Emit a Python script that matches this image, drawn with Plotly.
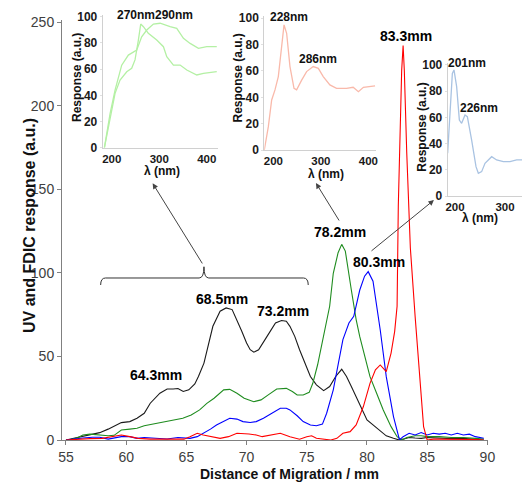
import plotly.graph_objects as go

# ---------------- main chart data (distance in mm, response in a.u.) -------------
black_x = [55, 55.5, 56.4, 57, 57.8, 58.5, 59.6, 60.3, 60.9, 61.5, 62.0, 62.8, 63.4, 63.9, 64.3, 64.74,
           65.2, 65.7, 66.0, 66.46, 66.8, 67.2, 67.8, 68.3, 68.8, 69.2, 69.6, 70.0, 70.3, 70.6, 71.0,
           71.7, 72.4, 72.9, 73.3, 73.6, 74.0, 74.4, 74.8, 75.3, 75.8, 76.4, 76.9, 77.4, 77.9, 78.3,
           78.7, 79.1, 79.5, 80.0, 80.5, 81.0, 81.6, 82.2, 82.7, 83.0, 83.5, 84, 84.5, 85, 86, 87,
           88, 89, 89.7]
black_y = [0, 0.8, 2.4, 3, 4.4, 6.5, 10.4, 11, 13, 16, 22, 28, 30.5, 30.5, 30.8, 29,
           30, 33.5, 38, 46, 56, 68, 77, 79, 78, 72, 65, 58, 54, 52.5, 54,
           62, 70, 71.5, 71, 68, 62, 54, 47, 38, 33, 29.5, 32, 38, 42.3, 38,
           32, 26, 20, 12, 9, 6, 2.5, 1, 0, 0.5, 1.5, 1.2, 1, 1.5, 1, 0.8,
           1, 0.5, 0]

green_x = [55, 55.3, 56, 56.4, 57, 57.8, 58.5, 59.0, 59.6, 60.3, 60.9, 61.5, 62.5, 63.5, 64.7, 65.4,
           66.1, 66.7, 67.3, 68.1, 68.6, 69.2, 69.8, 70.6, 71.2, 71.8, 72.5, 73.3, 73.8, 74.2, 74.7,
           75.2, 75.5, 75.9, 76.37, 76.9, 77.2, 77.6, 77.9, 78.2, 78.7, 79.1, 79.4, 79.8, 80.25,
           80.8, 81.35, 82.0, 82.5, 82.9, 83.3, 84, 84.5, 85, 86, 87, 88, 89, 89.7]
green_y = [0, 0, 1.5, 3, 3.5, 3, 2.5, 2.8, 6, 6.5, 7, 8.5, 10, 11.5, 13, 15,
           18, 21.9, 25, 30, 30.3, 28, 25, 22.9, 24, 27, 30.5, 30.9, 29, 26.9, 26.9,
           28.5, 33.9, 45, 61.8, 80, 99.7, 112, 117, 113, 89.7, 72, 61.8, 50, 37.9,
           28, 17.9, 8, 2, 0, 1.5, 2.5, 2.5, 2, 2, 1.5, 1.5, 1, 0.5]

blue_x = [55, 55.5, 56.4, 57.2, 57.8, 58.5, 59.0, 59.6, 60.3, 60.9, 61.5, 62.3, 63.4, 64.3, 65.3,
          65.9, 66.4, 67.0, 67.5, 68.0, 68.6, 69.2, 69.7, 70.3, 70.8, 71.4, 71.9, 72.4, 72.8, 73.3,
          73.6, 74.2, 74.7, 75.3, 75.8, 76.3, 76.65, 77.2, 77.6, 78.0, 78.5, 78.9, 79.4, 79.8,
          80.1, 80.5, 81.1, 81.6, 82.2, 82.7, 83.0, 83.5, 84.0, 84.5, 85, 85.5, 86, 86.5, 87,
          87.5, 88, 88.5, 89, 89.7]
blue_y = [0, 0.5, 1.2, 1.6, 1.6, 0.5, 1, 2, 2, 1, 1.5, 1, 0.6, 1.5, 1,
          2, 4, 6.5, 9, 11, 13, 12.5, 11, 10.5, 11, 13, 15, 17, 19, 19,
          18, 14.5, 11, 9, 8.5, 9.5, 16, 30, 45, 60, 70, 74, 89.7, 98,
          100.7, 95, 65.8, 37.9, 14, 0, 2, 4, 3, 4.5, 3, 4, 3.5, 4, 3,
          4, 3, 3.5, 2, 1]

red_x = [55, 56, 57, 58, 58.8, 59.6, 60.3, 61, 62, 63, 64, 64.8, 65.3, 65.9, 66.4, 67, 67.8,
         68.5, 69.2, 70.2, 70.8, 71.3, 72.0, 72.8, 73.6, 74.4, 75.0, 75.4, 75.8, 76.6, 77.0, 77.5,
         78.0, 78.6, 79.1, 79.7, 80.25, 80.7, 81.1, 81.6, 82.0, 82.3, 82.5, 82.6, 82.7, 82.88,
         83.0, 83.1, 83.3, 83.4, 83.6, 84.0, 84.2, 84.4, 84.7, 85, 85.5, 86, 87, 88, 89, 89.7]
red_y = [0, 0.5, 0.8, 1, 2, 3, 2, 1, 0.5, 0.5, 0.5, 0.5, 2, 4, 3, 2, 1,
         2, 4, 3.6, 3, 2, 3, 4, 2, 0.5, 2, 2.5, 1, 0.5, 0, 1,
         4, 5, 9, 20, 33.9, 42, 44.9, 40.9, 52, 65, 80, 140, 175, 221,
         236, 221, 172, 150, 115, 73.7, 55, 34, 8, 0, 0.5, 0.5, 0.5, 0.5, 0.3, 0]

# ---------------- inset spectra (wavelength nm, response a.u.) -------------------
ins1a_x = [184.6, 196.5, 207, 217.5, 231.6, 242, 249, 256, 261, 266.7, 277, 294.7, 308.8, 315.8,
           329.8, 343.9, 358, 379, 393, 421]
ins1a_y = [0, 23.7, 41.5, 51.7, 58, 60.6, 67, 82, 94.4, 92.4, 87.3, 82.2, 77.1, 69.5,
           63.1, 63.1, 59.3, 55.5, 56.7, 58]
ins1b_x = [184.6, 196.5, 207, 221, 235, 252.6, 263, 273.7, 287.7, 301.8, 322.8, 336.8, 350.9,
           365, 382.5, 400, 421]
ins1b_y = [0, 26, 44, 63, 70.7, 74.6, 84.7, 89.8, 94.4, 95, 92.4, 91.1, 83.5,
           79.6, 75.8, 77.1, 77.1]

ins2_x = [181, 189.5, 196.5, 203.5, 210.5, 217.5, 222.5, 228, 235, 243.5, 249, 259.6, 270, 284,
          294.7, 305, 319, 333, 354, 368, 379, 389.5, 414]
ins2_y = [0, 17.7, 38, 45.6, 55.7, 81, 95, 88.6, 63.3, 46.8, 45.6, 53, 59.5, 63.3,
          62, 55.7, 49.4, 46.8, 46.8, 47.6, 44.3, 47.6, 48.6]

ins3_x = [185.3, 190, 194.7, 198, 203.3, 208.7, 213.3, 220, 224.7, 233.3, 242, 246.7, 253.3,
          260, 273.3, 283.3, 296.7, 310, 323.3, 336]
ins3_y = [32.6, 65.6, 93.6, 96.2, 83.5, 58, 55.5, 61.8, 60.6, 42.7, 22.4, 17.3, 18.6,
          24.9, 30, 27.5, 26.2, 26.2, 27.5, 27.5]

x_ticks = [55, 60, 65, 70, 75, 80, 85, 90]
y_ticks = [0, 50, 100, 150, 200, 250]
inset_y_ticks = [0, 20, 40, 60, 80, 100]

peak_labels = [("64.3mm", 62.5, 38.9), ("68.5mm", 67.96, 84.1), ("73.2mm", 73.0, 77.3),
               ("78.2mm", 77.78, 124.2), ("80.3mm", 80.98, 106.6), ("83.3mm", 83.27, 241.6)]
inset_peak_labels = ["270nm", "290nm", "228nm", "286nm", "201nm", "226nm"]

FONT = "Arial, 'Liberation Sans', sans-serif"

fig = go.Figure()
main_lines = [(black_x, black_y, "#1a1a1a"), (green_x, green_y, "#1f8c1f"),
              (blue_x, blue_y, "#0000ff"), (red_x, red_y, "#ff0000")]
for xs, ys, c in main_lines:
    fig.add_trace(go.Scatter(x=xs, y=ys, mode="lines", line=dict(color=c, width=1.1),
                             xaxis="x", yaxis="y", showlegend=False, hoverinfo="skip"))

insets = [(ins1a_x, ins1a_y, "#b4f0a4", "2"), (ins1b_x, ins1b_y, "#b4f0a4", "2"),
          (ins2_x, ins2_y, "#f9b9aa", "3"), (ins3_x, ins3_y, "#a9c3e2", "4")]
for xs, ys, c, n in insets:
    fig.add_trace(go.Scatter(x=xs, y=ys, mode="lines", line=dict(color=c, width=1.3),
                             xaxis="x" + n, yaxis="y" + n, showlegend=False, hoverinfo="skip"))

W, H = 522, 482
ML, MB = 62, 40
PW, PH = W - ML, H - MB


def px_x(p):
    return (p - ML) / PW


def px_y(p):
    return (PH - p) / PH


def dx(p0, p1):
    return [px_x(p0), px_x(p1)]


def dy(top, bottom):
    return [px_y(bottom), px_y(top)]


axis_common = dict(showgrid=False, zeroline=False, showline=True, linecolor="#808080",
                   linewidth=1, ticks="outside", ticklen=4, tickcolor="#808080", automargin=False)
inset_x = dict(showgrid=False, zeroline=False, showline=True, linecolor="#d0d0d0", linewidth=1,
               ticks="", tickvals=[200, 300, 400], automargin=False,
               tickfont=dict(family=FONT, size=11.5, color="#1a1a1a", weight="bold"))
inset_y = dict(showgrid=False, zeroline=False, showline=True, linecolor="#d0d0d0", linewidth=1,
               ticks="outside", ticklen=2, tickcolor="#e0e0e0", tickvals=inset_y_ticks,
               automargin=False,
               tickfont=dict(family=FONT, size=12, color="#1a1a1a", weight="bold"))

fig.update_layout(
    width=W, height=H, margin=dict(l=ML, r=0, t=0, b=MB),
    paper_bgcolor="white", plot_bgcolor="rgba(0,0,0,0)",
    font=dict(family=FONT),
    xaxis=dict(**axis_common, domain=dx(62, 488), range=[54.67, 90.05], tickvals=x_ticks,
               tickfont=dict(family=FONT, size=14, color="#404040")),
    yaxis=dict(**axis_common, domain=dy(19.5, 440), range=[0, 251.5], tickvals=y_ticks,
               tickfont=dict(family=FONT, size=14, color="#404040")),
    xaxis2=dict(**inset_x, domain=dx(102.7, 217.7), range=[181, 423], anchor="y2"),
    yaxis2=dict(**inset_y, domain=dy(15, 147.7), range=[0, 101.3], anchor="x2"),
    xaxis3=dict(**inset_x, domain=dx(264.3, 376), range=[181, 416], anchor="y3"),
    yaxis3=dict(**inset_y, domain=dy(16, 150), range=[0, 101.7], anchor="x3"),
    xaxis4=dict(**{**inset_x, "tickvals": [200, 300]}, domain=dx(447.7, 522), range=[185.4, 334],
                anchor="y4"),
    yaxis4=dict(**inset_y, domain=dy(63, 196), range=[0, 101.5], anchor="x4"),
)

annos = []
for txt, x, y in peak_labels:
    annos.append(dict(text=txt, x=x, y=y, xref="x", yref="y", showarrow=False,
                      xanchor="center", yanchor="middle",
                      font=dict(family=FONT, size=14, color="#000", weight="bold")))


def paper_text(txt, px, py, font, angle=0):
    return dict(text=txt, x=px_x(px), y=px_y(py), xref="paper", yref="paper", showarrow=False,
                xanchor="center", yanchor="middle", textangle=angle, font=font, borderpad=0)


# inset peak labels, placed by pixel position on the page
lab_font = dict(family=FONT, size=12, color="#111", weight="bold")
inset_label_pos = [(135.8, 15), (173.8, 15), (289, 16.7), (318, 59.3), (467, 62.7), (479, 108.3)]
for txt, (px, py) in zip(inset_peak_labels, inset_label_pos):
    annos.append(paper_text(txt, px, py, lab_font))

# axis titles
for px, py in [(77, 78), (237.5, 78), (421.7, 127)]:
    annos.append(paper_text("Response (a.u.)", px, py, lab_font, -90))
for px, py in [(161.7, 171), (326, 174), (480, 218)]:
    annos.append(paper_text("λ (nm)", px, py, lab_font))
annos.append(paper_text("UV and FDIC response (a.u.)", 30, 226,
                        dict(family=FONT, size=16, color="#111", weight="bold"), -90))
annos.append(paper_text("Distance of Migration / mm", 289, 474,
                        dict(family=FONT, size=14, color="#111", weight="bold")))

# arrows: (tail, head) in main-axis data coordinates
arrows = [((66.4, 104.7), (62.2, 153.5)), ((77.76, 130.4), (75.76, 153.7)),
          ((80.25, 112.4), (85.56, 143.5))]
for (tx, ty), (hx, hy) in arrows:
    annos.append(dict(x=hx, y=hy, ax=tx, ay=ty, xref="x", yref="y", axref="x", ayref="y",
                      text="", showarrow=True, arrowhead=2, arrowsize=1.1, arrowwidth=1,
                      arrowcolor="#444"))
fig.update_layout(annotations=annos)

# curly brace above the 64-75 mm group
bl, br, bc, by, bd, bt = 57.88, 75.12, 66.46, 96.9, 92.7, 103.6
brace = (f"M {bl},{bd} Q {bl},{by} {bl+0.4},{by} L {bc-0.4},{by} Q {bc},{by} {bc},{bt} "
         f"Q {bc},{by} {bc+0.4},{by} L {br-0.4},{by} Q {br},{by} {br},{bd}")
fig.add_shape(type="path", path=brace, xref="x", yref="y", line=dict(color="#333", width=1))

fig.write_html("out.html")
